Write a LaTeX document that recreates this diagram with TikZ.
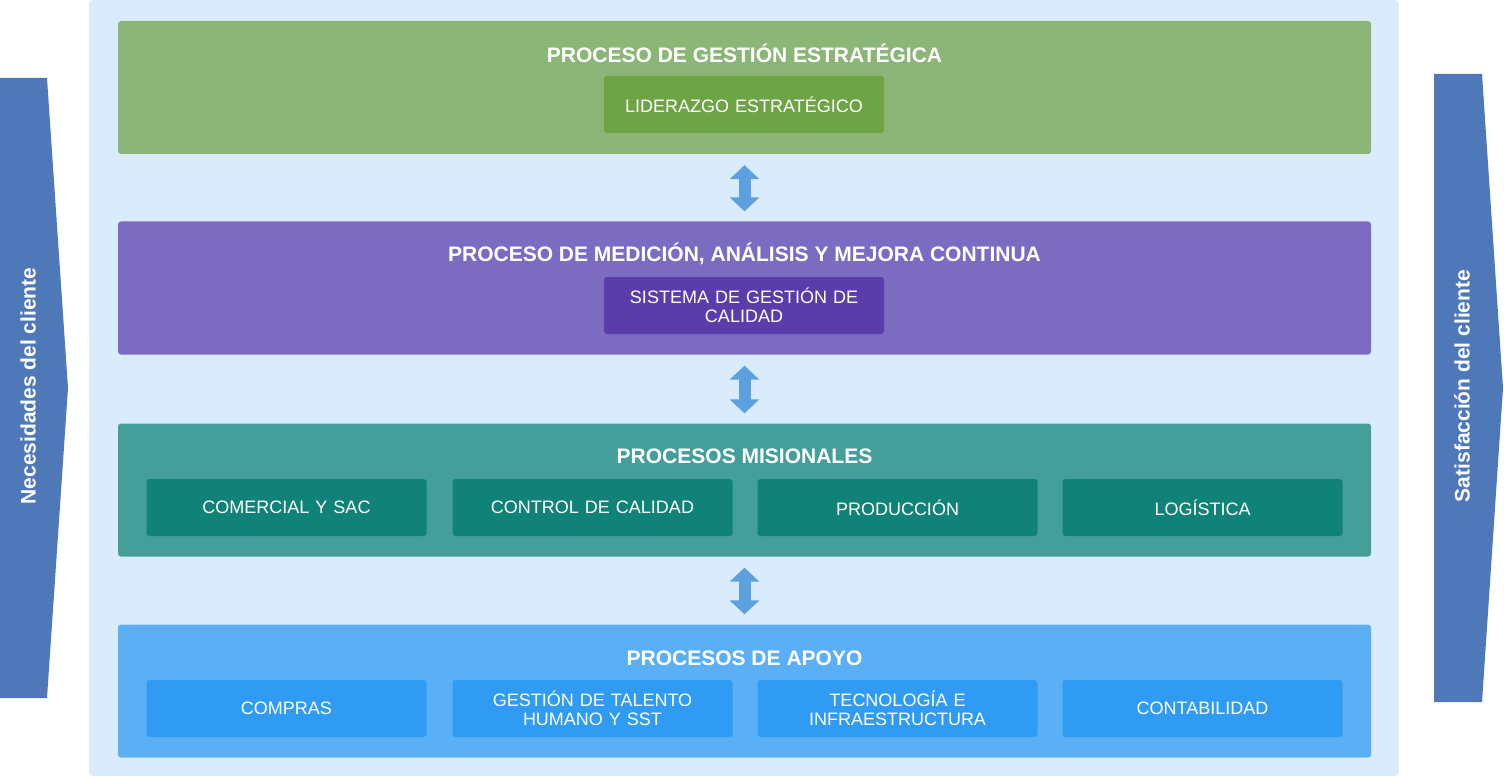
\documentclass[tikz,border=0pt]{standalone}
\usepackage{fontspec}
\setmainfont{Liberation Sans}
\usetikzlibrary{arrows.meta}
\definecolor{panelblue}{RGB}{218,235,251}
\definecolor{sideblue}{RGB}{79,120,185}
\definecolor{linkblue}{RGB}{92,160,224}
\definecolor{stratband}{RGB}{140,182,119}
\definecolor{stratunit}{RGB}{110,164,70}
\definecolor{measband}{RGB}{123,107,193}
\definecolor{measunit}{RGB}{90,61,170}
\definecolor{missband}{RGB}{68,158,153}
\definecolor{missunit}{RGB}{17,130,119}
\definecolor{suppband}{RGB}{91,176,245}
\definecolor{suppunit}{RGB}{47,155,242}

\tikzset{
  band/.style={fill=#1, rounded corners=3pt, minimum width=1253pt, minimum height=133pt, inner sep=0pt},
  unit/.style={fill=#1, rounded corners=3pt, minimum width=280pt, minimum height=57pt, inner sep=0pt,
    text=white, align=center, text width=274pt, font=\fontsize{18}{18.5}\selectfont},
  bandtitle/.style={text=white, font=\bfseries\fontsize{21}{24}\selectfont},
  link/.style={draw=linkblue, line width=12pt, {Triangle[width=29pt,length=14pt]}-{Triangle[width=29pt,length=14pt]},
    shorten >=10pt, shorten <=11pt},
  sidetext/.style={text=white, rotate=90, font=\bfseries\fontsize{21}{24}\selectfont}
}

\begin{document}
\begin{tikzpicture}[x=1pt, y=-1pt]
    \useasboundingbox (0,0) rectangle (1504,778);

    % background panel and side arrows
    \fill[panelblue, rounded corners=4pt] (89,0) rectangle (1399,776);
    \fill[sideblue] (0,78) -- (47,78) -- (68,388) -- (47,698) -- (0,698) -- cycle;
    \fill[sideblue] (1434,74) -- (1482,74) -- (1503,388) -- (1482,702) -- (1434,702) -- cycle;
    \node[sidetext] (needs) at (28,386) {Necesidades del cliente};
    \node[sidetext] (satisf) at (1462,386) {Satisfacción del cliente};

    % process bands
    \node[band=stratband] (strat) at (744.5,87.5) {};
    \node[band=measband] (meas) at (744.5,288) {};
    \node[band=missband] (miss) at (744.5,490) {};
    \node[band=suppband] (supp) at (744.5,691) {};

    \node[bandtitle] (strattitle) at (744.5,53) {PROCESO DE GESTIÓN ESTRATÉGICA};
    \node[bandtitle] (meastitle) at (744.5,254) {PROCESO DE MEDICIÓN, ANÁLISIS Y MEJORA CONTINUA};
    \node[bandtitle] (misstitle) at (744.5,456) {PROCESOS MISIONALES};
    \node[bandtitle] (supptitle) at (744.5,658) {PROCESOS DE APOYO};

    \node[unit=stratunit] (lead) at (744,104.5) {LIDERAZGO ESTRATÉGICO};
    \node[unit=measunit] (sgc) at (744,305.5) {SISTEMA DE GESTIÓN DE\\CALIDAD};

    \node[unit=missunit] (sales) at (286.5,507.5) {COMERCIAL Y SAC};
    \node[unit=missunit] (qc) at (592.5,507.5) {CONTROL DE CALIDAD};
    \node[unit=missunit] (prod) at (897.5,507.5) {PRODUCCIÓN};
    \node[unit=missunit] (logis) at (1202.5,507.5) {LOGÍSTICA};

    \node[unit=suppunit] (buy) at (286.5,708.5) {COMPRAS};
    \node[unit=suppunit] (talent) at (592.5,708.5) {GESTIÓN DE TALENTO\\HUMANO Y SST};
    \node[unit=suppunit] (tech) at (897.5,708.5) {TECNOLOGÍA E\\INFRAESTRUCTURA};
    \node[unit=suppunit] (acct) at (1202.5,708.5) {CONTABILIDAD};

    % links between bands
    \draw[link] (strat.south) -- (meas.north);
    \draw[link] (meas.south) -- (miss.north);
    \draw[link] (miss.south) -- (supp.north);
\end{tikzpicture}
\end{document}
